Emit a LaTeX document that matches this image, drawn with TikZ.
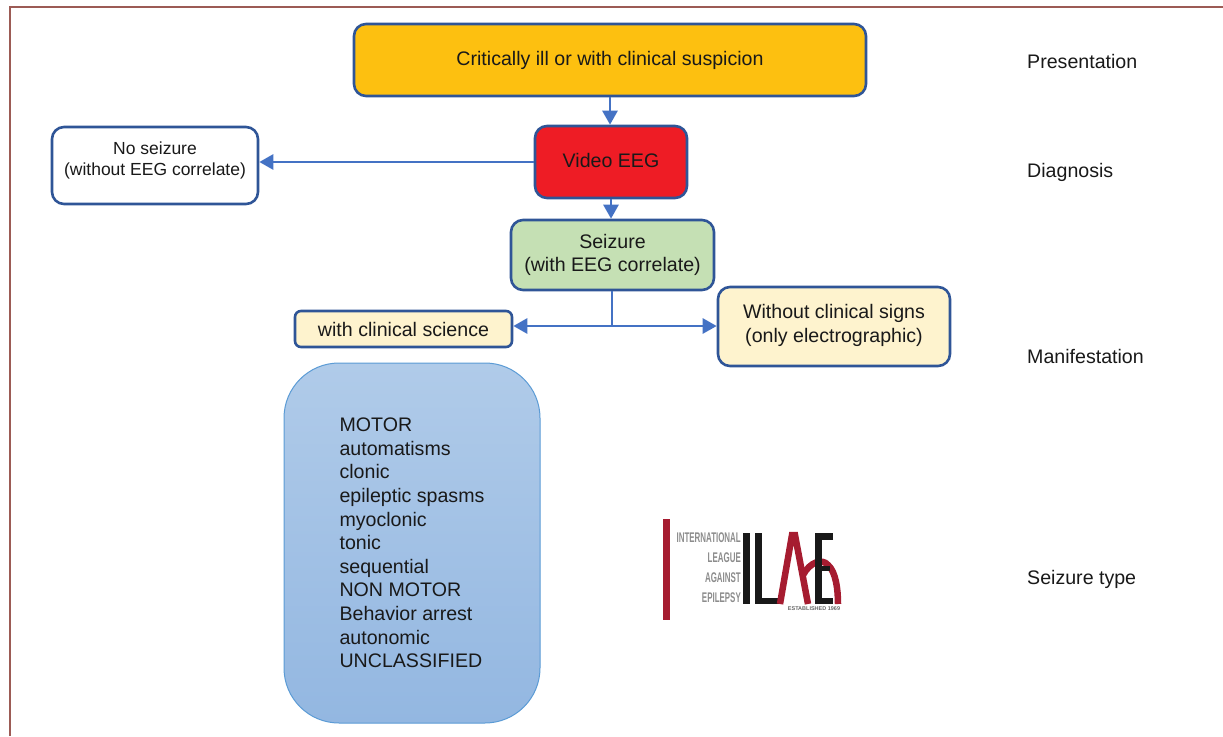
\documentclass[tikz,border=0pt]{standalone}
\usepackage{fontspec}
\setmainfont{Liberation Sans}
\usepackage{xcolor}
\usetikzlibrary{calc, positioning, arrows.meta, shapes.geometric}
\definecolor{edgeblue}{HTML}{2F5597}
\definecolor{arrowblue}{HTML}{4472C4}
\definecolor{frameline}{HTML}{9C5B55}
\definecolor{critfill}{HTML}{FDC010}
\definecolor{eegfill}{HTML}{EE1C25}
\definecolor{seizfill}{HTML}{C5E0B4}
\definecolor{manifill}{HTML}{FEF3CE}
\definecolor{typetop}{HTML}{B0CBE9}
\definecolor{typebottom}{HTML}{93B7E1}
\definecolor{typeline}{HTML}{5B9BD5}
\definecolor{logored}{HTML}{A61C30}
\tikzset{
    stage/.style={rectangle, rounded corners=12pt, draw=edgeblue, line width=2.6pt, align=center, inner sep=0pt, text=black!90, font=\fontsize{19.6}{23.5}\selectfont},
    arrow/.style={-{Triangle[length=14pt, width=15pt]}, line width=2.8pt, draw=arrowblue},
    link/.style={line width=2.8pt, draw=arrowblue},
    rowlabel/.style={anchor=base west, inner sep=0pt, text=black!90, font=\fontsize{19.6}{22}\selectfont},
    logotext/.style={anchor=east, inner sep=0pt, text=black!45, font=\fontsize{14}{14}\selectfont\bfseries},
    logoblackline/.style={line width=6.5pt, draw=black!90},
    logoredline/.style={line width=6.5pt, draw=logored}
}
\begin{document}
\begin{tikzpicture}[x=1pt, y=-1pt]
        \useasboundingbox (0,0) rectangle (1223,736);
        
        % Frame
        \draw[frameline, line width=1.3pt] (10,736) -- (10,7) -- (1223,7);
        
        % Flow
        \node[stage, fill=critfill, minimum width=512pt, minimum height=72pt] (Critical) at (610,60) {Critically ill or with clinical suspicion};
        \node[stage, fill=eegfill, minimum width=152pt, minimum height=72pt, text depth=4pt] (Video) at (611,162) {Video EEG};
        \node[stage, fill=white, minimum width=206pt, minimum height=77pt, text depth=13pt, font=\fontsize{17.5}{21}\selectfont] (NoSeizure) at (155,165.5) {No seizure\\(without EEG correlate)};
        \node[stage, fill=seizfill, minimum width=203pt, minimum height=70pt] (Seizure) at (612.5,255) {Seizure\\(with EEG correlate)};
        \node[stage, fill=manifill, rounded corners=6pt, minimum width=217pt, minimum height=36pt, text height=16pt] (Clinical) at (403.5,329) {with clinical science};
        \node[stage, fill=manifill, minimum width=232pt, minimum height=79pt, text depth=6.5pt] (Electro) at (834,326.5) {Without clinical signs\\(only electrographic)};
        \coordinate (Branch) at (612,326);
        
        % Seizure types
        \node[rectangle, rounded corners=55pt, draw=typeline, line width=1pt, top color=typetop, bottom color=typebottom, minimum width=256pt, minimum height=360pt, align=left, inner sep=0pt, text=black!90, font=\fontsize{19.6}{23.6}\selectfont] (Types) at (412,543) {MOTOR\\automatisms\\clonic\\epileptic spasms\\myoclonic\\tonic\\sequential\\NON MOTOR\\Behavior arrest\\autonomic\\UNCLASSIFIED};
        
        % Arrows
        \draw[arrow] (Critical.south) -- (Video.north -| Critical.south);
        \draw[arrow] (Video.west) -- (NoSeizure.east |- Video.west);
        \draw[arrow] (Video.south) -- (Seizure.north -| Video.south);
        \draw[link] (Seizure.south -| Branch) -- (Branch);
        \draw[arrow] (Branch) -- (Clinical.east |- Branch);
        \draw[arrow] (Branch) -- (Electro.west |- Branch);
        
        % Row labels
        \node[rowlabel] (Presentation) at (1027,68) {Presentation};
        \node[rowlabel] (Diagnosis) at (1027,177) {Diagnosis};
        \node[rowlabel] (Manifestation) at (1027,363) {Manifestation};
        \node[rowlabel] (SeizureType) at (1027,584) {Seizure type};
        
        % Logo
        \fill[logored] (663,519) rectangle (670,620);
        \node[logotext] (LogoA) at (741,538) {\scalebox{0.567}[1]{INTERNATIONAL}};
        \node[logotext] (LogoB) at (741,558) {\scalebox{0.567}[1]{LEAGUE}};
        \node[logotext] (LogoC) at (741,578) {\scalebox{0.567}[1]{AGAINST}};
        \node[logotext] (LogoD) at (741,598) {\scalebox{0.567}[1]{EPILEPSY}};
        \draw[logoblackline] (746.5,533) -- (746.5,604);
        \draw[logoblackline] (758.5,533) -- (758.5,601) -- (779,601);
        \draw[logoredline, line join=miter] (780,604) -- (792,535) -- (795,535) -- (808,604);
        \draw[logoredline] (803,575) .. controls (810,562) and (822,558) .. (828,565) .. controls (836,572) and (838,590) .. (838,604);
        \draw[logoblackline] (833,536.5) -- (818.5,536.5) -- (818.5,601) -- (833,601);
        \draw[logoblackline, line width=5pt] (818.5,568) -- (830,568);
        \node[inner sep=0pt, text=black!60, font=\fontsize{5.5}{6}\selectfont\bfseries] (LogoE) at (814,609) {ESTABLISHED 1969};
    \end{tikzpicture}
\end{document}
